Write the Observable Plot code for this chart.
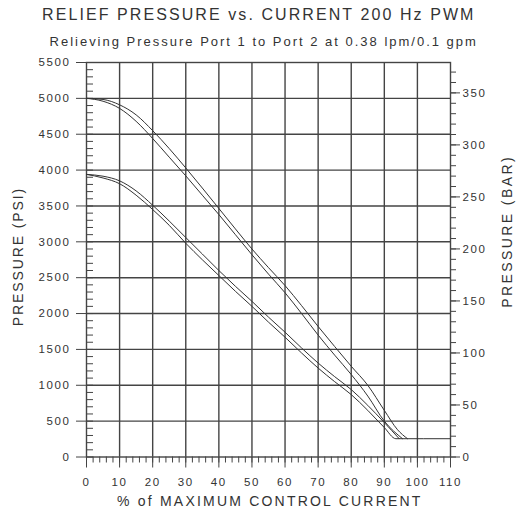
<!DOCTYPE html>
<html><head><meta charset="utf-8">
<script src="https://cdn.jsdelivr.net/npm/d3@7"></script>
<script src="https://cdn.jsdelivr.net/npm/@observablehq/plot@0.6"></script>
<style>
body{margin:0;background:#fff;}
#chart svg{display:block;}
</style></head><body><div id="chart"></div>
<script>
const title = "RELIEF PRESSURE vs. CURRENT 200 Hz PWM";
const subtitle = "Relieving Pressure Port 1 to Port 2 at 0.38 lpm/0.1 gpm";
const xLabel = "% of MAXIMUM CONTROL CURRENT";
const yLabelLeft = "PRESSURE (PSI)";
const yLabelRight = "PRESSURE (BAR)";
const PSI_PER_BAR = 14.5038;

const xTicks = [0, 10, 20, 30, 40, 50, 60, 70, 80, 90, 100, 110];
const psiTicks = [0, 500, 1000, 1500, 2000, 2500, 3000, 3500, 4000, 4500, 5000, 5500];
const barTicks = [0, 50, 100, 150, 200, 250, 300, 350];
const xMinorTicks = d3.range(0, 111, 2);
const psiMinorTicks = d3.range(0, 5501, 100);
const barMinorTicks = d3.range(0, 380, 10);

// High setting band (starts at 5000 psi)
const highUpperPct = [0, 5, 10, 15, 20, 25, 30, 35, 40, 45, 50, 55, 60, 65, 70, 75, 80, 85, 90, 94, 97];
const highUpperPsi = [5000, 4985, 4910, 4770, 4550, 4300, 4030, 3750, 3465, 3180, 2900, 2640, 2390, 2110, 1820, 1540, 1265, 1000, 650, 380, 255];
const highLowerPct = [0, 5, 10, 15, 20, 25, 30, 35, 40, 45, 50, 55, 60, 65, 70, 75, 80, 85, 90, 95.5];
const highLowerPsi = [5000, 4960, 4860, 4680, 4440, 4180, 3920, 3650, 3380, 3100, 2820, 2550, 2290, 2000, 1700, 1420, 1150, 850, 500, 255];
// Low setting band (starts at ~3940 psi)
const lowUpperPct = [0, 5, 10, 15, 20, 25, 30, 35, 40, 45, 50, 55, 60, 65, 70, 75, 80, 85, 90, 94.5];
const lowUpperPsi = [3940, 3915, 3850, 3710, 3510, 3290, 3060, 2830, 2600, 2380, 2170, 1950, 1740, 1520, 1310, 1120, 940, 720, 480, 255];
const lowLowerPct = [0, 5, 10, 15, 20, 25, 30, 35, 40, 45, 50, 55, 60, 65, 70, 75, 80, 85, 90, 93.5, 110];
const lowLowerPsi = [3940, 3890, 3810, 3650, 3450, 3230, 2980, 2750, 2530, 2310, 2100, 1880, 1670, 1450, 1240, 1050, 870, 650, 410, 255, 255];

const series = [
  {name: "high-upper", pct: highUpperPct, psi: highUpperPsi},
  {name: "high-lower", pct: highLowerPct, psi: highLowerPsi},
  {name: "low-upper", pct: lowUpperPct, psi: lowUpperPsi},
  {name: "low-lower", pct: lowLowerPct, psi: lowLowerPsi}
];
const rows = series.flatMap(s => s.pct.map((p, i) => ({series: s.name, pct: p, psi: s.psi[i]})));

const ink = "#444";
const gridOpts = {stroke: ink, strokeOpacity: 1, strokeWidth: 1.4};
const txt = {text: d => d, textAnchor: "middle", lineAnchor: "middle", fill: "#333"};

const svg = Plot.plot({
  width: 516, height: 515,
  marginLeft: 86, marginRight: 66, marginTop: 62, marginBottom: 58.5,
  x: {domain: [0, 110]},
  y: {domain: [0, 5500]},
  style: {fontFamily: "'Liberation Sans', Arial, sans-serif", fontSize: "11.5px", color: "#333", background: "#fff", letterSpacing: "1.6px"},
  marks: [
    Plot.gridX(xTicks.filter(d => d > 0 && d < 110), gridOpts),
    Plot.gridY(psiTicks.filter(d => d > 0 && d < 5500), gridOpts),
    Plot.frame({stroke: ink, strokeWidth: 1.4}),
    Plot.axisY(psiMinorTicks, {anchor: "left", tickSize: -7, tickFormat: () => "", label: null, stroke: ink}),
    Plot.axisY(psiTicks, {anchor: "left", tickSize: 10, tickPadding: 6, tickFormat: d => String(d), label: null, stroke: ink}),
    Plot.axisY(barMinorTicks.map(b => b * PSI_PER_BAR), {anchor: "right", tickSize: 5, tickFormat: () => "", label: null, stroke: ink}),
    Plot.axisY(barTicks.map(b => b * PSI_PER_BAR), {anchor: "right", tickSize: 9, tickPadding: 3, tickFormat: d => String(Math.round(d / PSI_PER_BAR)), label: null, stroke: ink}),
    Plot.axisX(xMinorTicks, {anchor: "bottom", tickSize: 6, tickFormat: () => "", label: null, stroke: ink}),
    Plot.axisX(xTicks, {anchor: "bottom", tickSize: 11, tickPadding: 10, tickFormat: d => String(d), label: null, stroke: ink}),
    Plot.line(rows, {x: "pct", y: "psi", z: "series", stroke: "#333", strokeWidth: 1, curve: "monotone-x"}),
    Plot.text([title], {...txt, frameAnchor: "top", dx: -10, dy: -48, fontSize: 16}),
    Plot.text([subtitle], {...txt, frameAnchor: "top", dx: -5, dy: -20.5, fontSize: 13}),
    Plot.text([xLabel], {...txt, frameAnchor: "bottom", dx: 1, dy: 45, fontSize: 14}),
    Plot.text([yLabelLeft], {...txt, frameAnchor: "left", dx: -68, dy: -3, rotate: -90, fontSize: 14}),
    Plot.text([yLabelRight], {...txt, frameAnchor: "right", dx: 57, dy: -28, rotate: -90, fontSize: 14})
  ]
});

const lengths = new Map([[title, 433], [subtitle, 428], [xLabel, 305], [yLabelLeft, 139], [yLabelRight, 152]]);
svg.querySelectorAll("text").forEach(t => {
  const L = lengths.get(t.textContent);
  if (L) { t.setAttribute("textLength", L); t.setAttribute("lengthAdjust", "spacing"); }
});
document.getElementById("chart").appendChild(svg);
</script></body></html>
